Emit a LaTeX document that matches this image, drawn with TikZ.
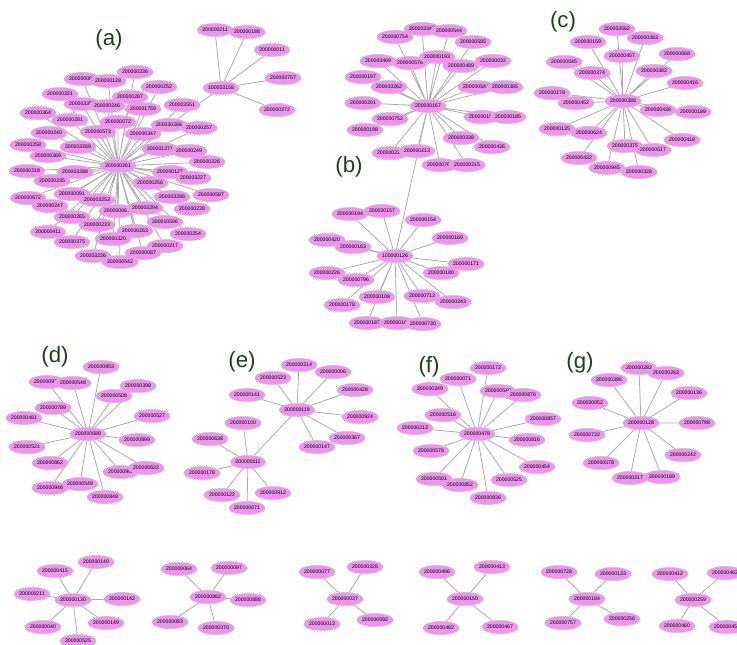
\documentclass[tikz,border=0pt]{standalone}
\usepackage{fontspec}
\setmainfont{Liberation Sans}
\usepackage{tikz}
\usetikzlibrary{shapes.geometric, backgrounds}

\definecolor{nodepink}{RGB}{238,148,238}
\definecolor{labelgreen}{RGB}{22,68,22}

\begin{document}
\begin{tikzpicture}[x=0.03cm, y=-0.03cm,
  gene/.style={ellipse, draw=gray!45, line width=0.3pt, fill=nodepink, minimum width=0.97cm, minimum height=0.40cm, inner sep=0pt, font=\fontsize{4.4}{5}\selectfont},
  edge/.style={draw=gray!65, line width=0.7pt},
  panel/.style={font=\fontsize{19}{22}\selectfont, text=labelgreen}]
  \useasboundingbox (0,0) rectangle (737,644);
  % panel labels
  \node[panel] (la) at (109,40) {(a)};
  \node[panel] (lb) at (349,167) {(b)};
  \node[panel] (lc) at (563,22) {(c)};
  \node[panel] (ld) at (55,357) {(d)};
  \node[panel] (le) at (242,362) {(e)};
  \node[panel] (lf) at (429,367) {(f)};
  \node[panel] (lg) at (580,363) {(g)};
  % cluster (a)
  \node[gene] (a0) at (118,166) {200000261};
  \node[gene] (a1) at (82,79) {200000081};
  \node[gene] (a2) at (108,81) {200000128};
  \node[gene] (a3) at (135,72) {200000236};
  \node[gene] (a4) at (159,87) {200000252};
  \node[gene] (a5) at (60,94) {200000221};
  \node[gene] (a6) at (82,104) {200003357};
  \node[gene] (a7) at (107,106) {200000246};
  \node[gene] (a8) at (130,97) {200000287};
  \node[gene] (a9) at (38,113) {200000364};
  \node[gene] (a10) at (70,120) {200000281};
  \node[gene] (a11) at (118,122) {200000072};
  \node[gene] (a12) at (143,109) {200001759};
  \node[gene] (a13) at (182,105) {200003551};
  \node[gene] (a14) at (49,133) {200000240};
  \node[gene] (a15) at (98,132) {200000573};
  \node[gene] (a16) at (143,134) {200000347};
  \node[gene] (a17) at (169,125) {200330266};
  \node[gene] (a18) at (199,128) {200000257};
  \node[gene] (a19) at (28,145) {200000258};
  \node[gene] (a20) at (78,147) {200003269};
  \node[gene] (a21) at (160,149) {200001371};
  \node[gene] (a22) at (189,151) {200000249};
  \node[gene] (a23) at (48,156) {200000369};
  \node[gene] (a24) at (207,162) {200000226};
  \node[gene] (a25) at (27,171) {200000318};
  \node[gene] (a26) at (75,172) {200003288};
  \node[gene] (a27) at (170,172) {200000127};
  \node[gene] (a28) at (193,178) {200003227};
  \node[gene] (a29) at (52,181) {200000235};
  \node[gene] (a30) at (150,183) {200000256};
  \node[gene] (a31) at (28,198) {200000672};
  \node[gene] (a32) at (72,194) {200000091};
  \node[gene] (a33) at (97,200) {200003253};
  \node[gene] (a34) at (211,195) {200000587};
  \node[gene] (a35) at (172,197) {200003286};
  \node[gene] (a36) at (50,206) {200000247};
  \node[gene] (a37) at (72,217) {200000265};
  \node[gene] (a38) at (117,211) {200000067};
  \node[gene] (a39) at (145,208) {200003294};
  \node[gene] (a40) at (192,209) {200000238};
  \node[gene] (a41) at (97,225) {200000233};
  \node[gene] (a42) at (165,222) {200010596};
  \node[gene] (a43) at (48,232) {200000411};
  \node[gene] (a44) at (135,231) {200000263};
  \node[gene] (a45) at (188,234) {200000254};
  \node[gene] (a46) at (72,242) {200000375};
  \node[gene] (a47) at (113,239) {200000320};
  \node[gene] (a48) at (165,246) {200000217};
  \node[gene] (a49) at (93,256) {200003226};
  \node[gene] (a50) at (143,253) {200000087};
  \node[gene] (a51) at (120,262) {200000542};
  % hub hanging off (a)
  \node[gene] (h0) at (221,88) {100003158};
  \node[gene] (h1) at (215,30) {200000211};
  \node[gene] (h2) at (247,32) {200000188};
  \node[gene] (h3) at (272,50) {200000011};
  \node[gene] (h4) at (283,78) {200003757};
  \node[gene] (h5) at (277,110) {200000272};
  % cluster (b), upper star
  \node[gene] (b0) at (428,106) {200000167};
  \node[gene] (b1) at (395,37) {200000754};
  \node[gene] (b2) at (422,29) {200003347};
  \node[gene] (b3) at (449,31) {200000544};
  \node[gene] (b4) at (473,42) {200000585};
  \node[gene] (b5) at (378,61) {200003469};
  \node[gene] (b6) at (410,63) {200000576};
  \node[gene] (b7) at (437,57) {200000193};
  \node[gene] (b8) at (461,66) {200000489};
  \node[gene] (b9) at (493,61) {200000032};
  \node[gene] (b10) at (363,77) {200000197};
  \node[gene] (b11) at (389,87) {200003262};
  \node[gene] (b12) at (476,87) {200000541};
  \node[gene] (b13) at (505,87) {200000385};
  \node[gene] (b14) at (363,103) {200000201};
  \node[gene] (b15) at (482,117) {200000105};
  \node[gene] (b16) at (508,117) {200000185};
  \node[gene] (b17) at (390,119) {200000752};
  \node[gene] (b18) at (365,130) {200000198};
  \node[gene] (b19) at (461,138) {200000338};
  \node[gene] (b20) at (492,147) {200000436};
  \node[gene] (b21) at (390,153) {200000231};
  \node[gene] (b22) at (417,151) {200000213};
  \node[gene] (b23) at (440,165) {200000762};
  \node[gene] (b24) at (467,165) {200000215};
  % cluster (b), lower star
  \node[gene] (k0) at (395,256) {100000126};
  \node[gene] (k1) at (350,214) {200000194};
  \node[gene] (k2) at (382,211) {200000157};
  \node[gene] (k3) at (423,220) {200000154};
  \node[gene] (k4) at (327,240) {200000420};
  \node[gene] (k5) at (353,247) {200000163};
  \node[gene] (k6) at (450,238) {200000169};
  \node[gene] (k7) at (466,264) {200000171};
  \node[gene] (k8) at (327,273) {200000226};
  \node[gene] (k9) at (356,280) {200000796};
  \node[gene] (k10) at (441,273) {200000180};
  \node[gene] (k11) at (342,305) {200000178};
  \node[gene] (k12) at (377,297) {200000108};
  \node[gene] (k13) at (422,296) {200000713};
  \node[gene] (k14) at (453,302) {200000243};
  \node[gene] (k15) at (367,323) {200000187};
  \node[gene] (k16) at (397,323) {200000168};
  \node[gene] (k17) at (423,324) {200000730};
  % cluster (c)
  \node[gene] (c0) at (623,101) {200000388};
  \node[gene] (c1) at (617,29) {200003562};
  \node[gene] (c2) at (588,42) {200000159};
  \node[gene] (c3) at (645,38) {200000383};
  \node[gene] (c4) at (622,56) {200000457};
  \node[gene] (c5) at (677,54) {200000668};
  \node[gene] (c6) at (564,62) {200000045};
  \node[gene] (c7) at (592,73) {200000374};
  \node[gene] (c8) at (654,71) {200000382};
  \node[gene] (c9) at (685,83) {200000416};
  \node[gene] (c10) at (552,93) {200000178};
  \node[gene] (c11) at (576,103) {200000452};
  \node[gene] (c12) at (658,110) {200000438};
  \node[gene] (c13) at (693,112) {200000189};
  \node[gene] (c14) at (557,129) {200000135};
  \node[gene] (c15) at (589,133) {200000624};
  \node[gene] (c16) at (682,140) {200000418};
  \node[gene] (c17) at (625,146) {200000375};
  \node[gene] (c18) at (653,150) {200000517};
  \node[gene] (c19) at (579,158) {200000432};
  \node[gene] (c20) at (607,168) {200000945};
  \node[gene] (c21) at (639,172) {200000328};
  % cluster (d)
  \node[gene] (d0) at (88,434) {200000688};
  \node[gene] (d1) at (101,367) {200000953};
  \node[gene] (d2) at (47,382) {200000974};
  \node[gene] (d3) at (73,383) {200000548};
  \node[gene] (d4) at (138,386) {200000398};
  \node[gene] (d5) at (114,396) {200000508};
  \node[gene] (d6) at (53,408) {200000789};
  \node[gene] (d7) at (24,418) {200000481};
  \node[gene] (d8) at (152,416) {200000527};
  \node[gene] (d9) at (27,447) {200000521};
  \node[gene] (d10) at (137,440) {200000899};
  \node[gene] (d11) at (50,463) {200000862};
  \node[gene] (d12) at (121,472) {200000992};
  \node[gene] (d13) at (146,468) {200000622};
  \node[gene] (d14) at (80,484) {200000549};
  \node[gene] (d15) at (50,488) {200000946};
  \node[gene] (d16) at (105,497) {200000848};
  % cluster (e)
  \node[gene] (e0) at (297,410) {200000119};
  \node[gene] (e1) at (299,365) {200000214};
  \node[gene] (e2) at (273,378) {200000523};
  \node[gene] (e3) at (333,372) {200000006};
  \node[gene] (e4) at (355,390) {200000428};
  \node[gene] (e5) at (247,395) {200000141};
  \node[gene] (e6) at (360,417) {200000924};
  \node[gene] (e7) at (347,438) {200000367};
  \node[gene] (e8) at (317,447) {200000147};
  \node[gene] (ee0) at (248,462) {200000111};
  \node[gene] (ee1) at (243,423) {200000100};
  \node[gene] (ee2) at (210,439) {200000638};
  \node[gene] (ee3) at (202,473) {200000178};
  \node[gene] (ee4) at (222,495) {200000122};
  \node[gene] (ee5) at (273,493) {200000912};
  \node[gene] (ee6) at (247,508) {200000071};
  % cluster (f)
  \node[gene] (f0) at (477,434) {200000478};
  \node[gene] (f1) at (488,368) {200000172};
  \node[gene] (f2) at (458,379) {200000071};
  \node[gene] (f3) at (430,389) {200000349};
  \node[gene] (f4) at (498,391) {200000540};
  \node[gene] (f5) at (523,395) {200000876};
  \node[gene] (f6) at (443,415) {200000516};
  \node[gene] (f7) at (543,419) {200000857};
  \node[gene] (f8) at (415,428) {200000213};
  \node[gene] (f9) at (527,440) {200000816};
  \node[gene] (f10) at (431,451) {200000578};
  \node[gene] (f11) at (537,467) {200000454};
  \node[gene] (f12) at (434,479) {200000501};
  \node[gene] (f13) at (460,485) {200000852};
  \node[gene] (f14) at (509,480) {200000525};
  \node[gene] (f15) at (488,498) {200000836};
  % cluster (g)
  \node[gene] (g0) at (641,423) {200000128};
  \node[gene] (g1) at (639,368) {200000282};
  \node[gene] (g2) at (666,373) {200000263};
  \node[gene] (g3) at (609,380) {200000396};
  \node[gene] (g4) at (689,393) {200000136};
  \node[gene] (g5) at (590,403) {200000052};
  \node[gene] (g6) at (697,423) {200000798};
  \node[gene] (g7) at (587,435) {200000732};
  \node[gene] (g8) at (683,455) {200000242};
  \node[gene] (g9) at (601,463) {200000578};
  \node[gene] (g10) at (630,478) {200000217};
  \node[gene] (g11) at (662,477) {200000189};
  % small stars, bottom row
  \node[gene] (p0) at (73,600) {200000130};
  \node[gene] (p1) at (55,571) {200000415};
  \node[gene] (p2) at (96,562) {200000140};
  \node[gene] (p3) at (32,594) {200000211};
  \node[gene] (p4) at (122,599) {200000142};
  \node[gene] (p5) at (43,627) {200000040};
  \node[gene] (p6) at (106,623) {200000149};
  \node[gene] (p7) at (78,641) {200000525};
  \node[gene] (q0) at (208,597) {200000882};
  \node[gene] (q1) at (179,569) {200000064};
  \node[gene] (q2) at (229,568) {200000097};
  \node[gene] (q3) at (248,600) {200000888};
  \node[gene] (q4) at (170,622) {200000083};
  \node[gene] (q5) at (216,628) {200000370};
  \node[gene] (r0) at (345,599) {200000037};
  \node[gene] (r1) at (317,572) {200000077};
  \node[gene] (r2) at (365,567) {200000328};
  \node[gene] (r3) at (322,624) {200000013};
  \node[gene] (r4) at (375,620) {200000592};
  \node[gene] (s0) at (465,599) {200000150};
  \node[gene] (s1) at (437,572) {200000496};
  \node[gene] (s2) at (492,567) {200000413};
  \node[gene] (s3) at (441,628) {200000482};
  \node[gene] (s4) at (500,627) {200000467};
  \node[gene] (t0) at (587,599) {200000184};
  \node[gene] (t1) at (559,572) {200000728};
  \node[gene] (t2) at (613,574) {200000133};
  \node[gene] (t3) at (563,623) {200000757};
  \node[gene] (t4) at (622,619) {200000256};
  \node[gene] (u0) at (693,600) {200000259};
  \node[gene] (u1) at (670,574) {200000412};
  \node[gene] (u2) at (725,573) {200000463};
  \node[gene] (u3) at (677,626) {200000460};
  \node[gene] (u4) at (727,627) {200000454};
  % connectors behind the nodes
  \begin{pgfonlayer}{background}
    \draw[edge] (a0) -- (a1) (a0) -- (a2) (a0) -- (a3) (a0) -- (a4) (a0) -- (a5)
      (a0) -- (a6) (a0) -- (a7) (a0) -- (a8) (a0) -- (a9) (a0) -- (a10)
      (a0) -- (a11) (a0) -- (a12) (a0) -- (a13) (a0) -- (a14) (a0) -- (a15)
      (a0) -- (a16) (a0) -- (a17) (a0) -- (a18) (a0) -- (a19) (a0) -- (a20)
      (a0) -- (a21) (a0) -- (a22) (a0) -- (a23) (a0) -- (a24) (a0) -- (a25)
      (a0) -- (a26) (a0) -- (a27) (a0) -- (a28) (a0) -- (a29) (a0) -- (a30)
      (a0) -- (a31) (a0) -- (a32) (a0) -- (a33) (a0) -- (a34) (a0) -- (a35)
      (a0) -- (a36) (a0) -- (a37) (a0) -- (a38) (a0) -- (a39) (a0) -- (a40)
      (a0) -- (a41) (a0) -- (a42) (a0) -- (a43) (a0) -- (a44) (a0) -- (a45)
      (a0) -- (a46) (a0) -- (a47) (a0) -- (a48) (a0) -- (a49) (a0) -- (a50)
      (a0) -- (a51);
    \draw[edge] (a17) -- (h0) (h0) -- (h1) (h0) -- (h2) (h0) -- (h3) (h0) -- (h4) (h0) -- (h5);
    \draw[edge] (b0) -- (b1) (b0) -- (b2) (b0) -- (b3) (b0) -- (b4) (b0) -- (b5)
      (b0) -- (b6) (b0) -- (b7) (b0) -- (b8) (b0) -- (b9) (b0) -- (b10)
      (b0) -- (b11) (b0) -- (b12) (b0) -- (b13) (b0) -- (b14) (b0) -- (b15)
      (b0) -- (b16) (b0) -- (b17) (b0) -- (b18) (b0) -- (b19) (b0) -- (b20)
      (b0) -- (b21) (b0) -- (b22) (b0) -- (b23) (b0) -- (b24);
    \draw[edge] (b0) -- (k0);
    \draw[edge] (k0) -- (k1) (k0) -- (k2) (k0) -- (k3) (k0) -- (k4) (k0) -- (k5)
      (k0) -- (k6) (k0) -- (k7) (k0) -- (k8) (k0) -- (k9) (k0) -- (k10)
      (k0) -- (k11) (k0) -- (k12) (k0) -- (k13) (k0) -- (k14) (k0) -- (k15)
      (k0) -- (k16) (k0) -- (k17);
    \draw[edge] (c0) -- (c1) (c0) -- (c2) (c0) -- (c3) (c0) -- (c4) (c0) -- (c5)
      (c0) -- (c6) (c0) -- (c7) (c0) -- (c8) (c0) -- (c9) (c0) -- (c10)
      (c0) -- (c11) (c0) -- (c12) (c0) -- (c13) (c0) -- (c14) (c0) -- (c15)
      (c0) -- (c16) (c0) -- (c17) (c0) -- (c18) (c0) -- (c19) (c0) -- (c20)
      (c0) -- (c21);
    \draw[edge] (d0) -- (d1) (d0) -- (d2) (d0) -- (d3) (d0) -- (d4) (d0) -- (d5)
      (d0) -- (d6) (d0) -- (d7) (d0) -- (d8) (d0) -- (d9) (d0) -- (d10)
      (d0) -- (d11) (d0) -- (d12) (d0) -- (d13) (d0) -- (d14) (d0) -- (d15)
      (d0) -- (d16);
    \draw[edge] (e0) -- (e1) (e0) -- (e2) (e0) -- (e3) (e0) -- (e4)
      (e0) -- (e5) (e0) -- (e6) (e0) -- (e7) (e0) -- (e8) (e0) -- (ee0);
    \draw[edge] (ee0) -- (ee1) (ee0) -- (ee2) (ee0) -- (ee3) (ee0) -- (ee4)
      (ee0) -- (ee5) (ee0) -- (ee6);
    \draw[edge] (f0) -- (f1) (f0) -- (f2) (f0) -- (f3) (f0) -- (f4) (f0) -- (f5)
      (f0) -- (f6) (f0) -- (f7) (f0) -- (f8) (f0) -- (f9) (f0) -- (f10)
      (f0) -- (f11) (f0) -- (f12) (f0) -- (f13) (f0) -- (f14) (f0) -- (f15);
    \draw[edge] (g0) -- (g1) (g0) -- (g2) (g0) -- (g3) (g0) -- (g4) (g0) -- (g5)
      (g0) -- (g6) (g0) -- (g7) (g0) -- (g8) (g0) -- (g9) (g0) -- (g10)
      (g0) -- (g11);
    \draw[edge] (p0) -- (p1) (p0) -- (p2) (p0) -- (p3) (p0) -- (p4)
      (p0) -- (p5) (p0) -- (p6) (p0) -- (p7);
    \draw[edge] (q0) -- (q1) (q0) -- (q2) (q0) -- (q3) (q0) -- (q4) (q0) -- (q5);
    \draw[edge] (r0) -- (r1) (r0) -- (r2) (r0) -- (r3) (r0) -- (r4);
    \draw[edge] (s0) -- (s1) (s0) -- (s2) (s0) -- (s3) (s0) -- (s4);
    \draw[edge] (t0) -- (t1) (t0) -- (t2) (t0) -- (t3) (t0) -- (t4);
    \draw[edge] (u0) -- (u1) (u0) -- (u2) (u0) -- (u3) (u0) -- (u4);
  \end{pgfonlayer}
\end{tikzpicture}
\end{document}
